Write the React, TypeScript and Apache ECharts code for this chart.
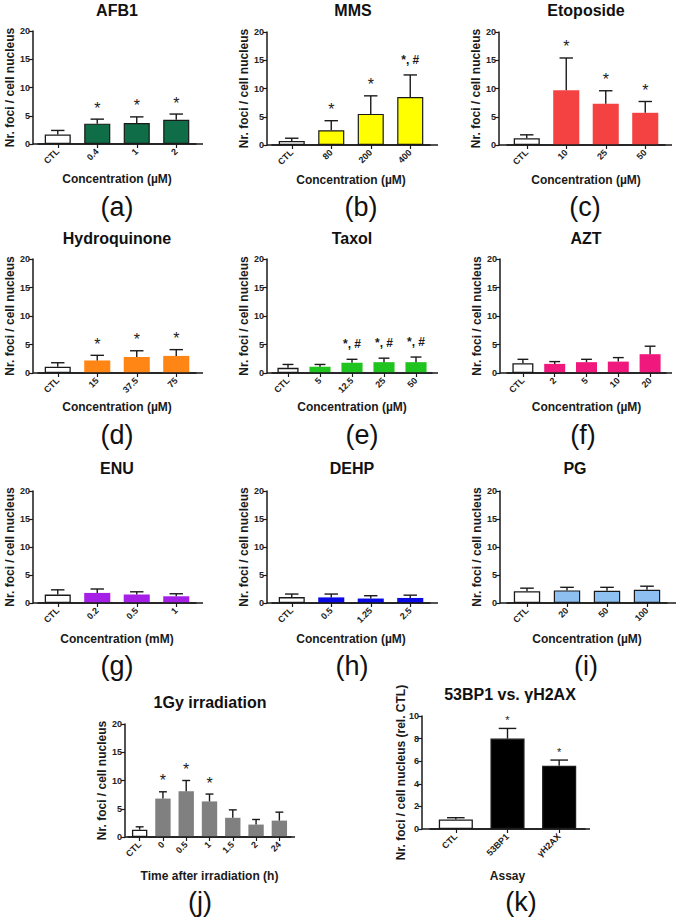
import React, { useEffect, useRef } from 'react';
import * as echarts from 'echarts';

const FONT = '"Liberation Sans", Arial, Helvetica, sans-serif';
const INK = '#1a1a1a';

// ---------- data ----------
const afb1Categories = ['CTL', '0.4', '1', '2'];
const afb1Means = [1.7, 3.6, 3.7, 4.3];
const afb1Sd = [0.7, 0.8, 1.1, 1.0];
const afb1Sig = ['', '*', '*', '*'];

const mmsCategories = ['CTL', '80', '200', '400'];
const mmsMeans = [0.7, 2.6, 5.5, 8.5];
const mmsSd = [0.5, 1.7, 3.2, 3.9];
const mmsSig = ['', '*', '*', '*, #'];

const etoCategories = ['CTL', '10', '25', '50'];
const etoMeans = [1.2, 9.7, 7.3, 5.7];
const etoSd = [0.6, 5.7, 2.3, 2.0];
const etoSig = ['', '*', '*', '*'];

const hqCategories = ['CTL', '15', '37.5', '75'];
const hqMeans = [1.1, 2.2, 2.8, 3.0];
const hqSd = [0.7, 0.9, 1.1, 1.1];
const hqSig = ['', '*', '*', '*'];

const taxolCategories = ['CTL', '5', '12.5', '25', '50'];
const taxolMeans = [0.9, 1.1, 1.8, 1.9, 1.9];
const taxolSd = [0.6, 0.4, 0.6, 0.7, 0.9];
const taxolSig = ['', '', '*, #', '*, #', '*, #'];

const aztCategories = ['CTL', '2', '5', '10', '20'];
const aztMeans = [1.7, 1.6, 1.9, 2.0, 3.3];
const aztSd = [0.7, 0.4, 0.5, 0.7, 1.4];
const aztSig = ['', '', '', '', ''];

const enuCategories = ['CTL', '0.2', '0.5', '1'];
const enuMeans = [1.5, 1.8, 1.5, 1.2];
const enuSd = [0.85, 0.7, 0.5, 0.45];
const enuSig = ['', '', '', ''];

const dehpCategories = ['CTL', '0.5', '1.25', '2.5'];
const dehpMeans = [1.05, 1.0, 0.8, 0.9];
const dehpSd = [0.55, 0.6, 0.5, 0.5];
const dehpSig = ['', '', '', ''];

const pgCategories = ['CTL', '20', '50', '100'];
const pgMeans = [2.1, 2.25, 2.2, 2.35];
const pgSd = [0.55, 0.55, 0.6, 0.65];
const pgSig = ['', '', '', ''];

const irrCategories = ['CTL', '0', '0.5', '1', '1.5', '2', '24'];
const irrMeans = [1.3, 6.8, 8.1, 6.3, 3.4, 2.2, 2.9];
const irrSd = [0.5, 1.2, 1.9, 1.3, 1.4, 0.9, 1.5];
const irrSig = ['', '*', '*', '*', '', '', ''];

const assayCategories = ['CTL', '53BP1', 'γH2AX'];
const assayMeans = [0.85, 8.0, 5.6];
const assaySd = [0.15, 0.9, 0.5];
const assaySig = ['', '*', '*'];

const Y_NAME = 'Nr. foci / cell nucleus';
const UM = 'Concentration (µM)';

const panels = [
  { tag: '(a)', title: 'AFB1', cats: afb1Categories, means: afb1Means, sd: afb1Sd, sig: afb1Sig, xName: UM, yName: Y_NAME, yMax: 20, yStep: 5 },
  { tag: '(b)', title: 'MMS', cats: mmsCategories, means: mmsMeans, sd: mmsSd, sig: mmsSig, xName: UM, yName: Y_NAME, yMax: 20, yStep: 5 },
  { tag: '(c)', title: 'Etoposide', cats: etoCategories, means: etoMeans, sd: etoSd, sig: etoSig, xName: UM, yName: Y_NAME, yMax: 20, yStep: 5 },
  { tag: '(d)', title: 'Hydroquinone', cats: hqCategories, means: hqMeans, sd: hqSd, sig: hqSig, xName: UM, yName: Y_NAME, yMax: 20, yStep: 5 },
  { tag: '(e)', title: 'Taxol', cats: taxolCategories, means: taxolMeans, sd: taxolSd, sig: taxolSig, xName: UM, yName: Y_NAME, yMax: 20, yStep: 5 },
  { tag: '(f)', title: 'AZT', cats: aztCategories, means: aztMeans, sd: aztSd, sig: aztSig, xName: UM, yName: Y_NAME, yMax: 20, yStep: 5 },
  { tag: '(g)', title: 'ENU', cats: enuCategories, means: enuMeans, sd: enuSd, sig: enuSig, xName: 'Concentration (mM)', yName: Y_NAME, yMax: 20, yStep: 5 },
  { tag: '(h)', title: 'DEHP', cats: dehpCategories, means: dehpMeans, sd: dehpSd, sig: dehpSig, xName: UM, yName: Y_NAME, yMax: 20, yStep: 5 },
  { tag: '(i)', title: 'PG', cats: pgCategories, means: pgMeans, sd: pgSd, sig: pgSig, xName: UM, yName: Y_NAME, yMax: 20, yStep: 5 },
  { tag: '(j)', title: '1Gy irradiation', cats: irrCategories, means: irrMeans, sd: irrSd, sig: irrSig, xName: 'Time after irradiation (h)', yName: Y_NAME, yMax: 20, yStep: 5 },
  { tag: '(k)', title: '53BP1 vs. γH2AX', cats: assayCategories, means: assayMeans, sd: assaySd, sig: assaySig, xName: 'Assay', yName: 'Nr. foci / cell nucleus (rel. CTL)', yMax: 10, yStep: 2 },
];

// ---------- styles & layout ----------
const styles = [
  { color: '#0f6d47', border: true },
  { color: '#ffff00', border: true },
  { color: '#f44242', border: false },
  { color: '#ff8514', border: false },
  { color: '#1fc41f', border: false },
  { color: '#f0187c', border: false },
  { color: '#a51fe6', border: false },
  { color: '#0a0ae6', border: false },
  { color: '#8ec1f2', border: true },
  { color: '#808080', border: false },
  { color: '#000000', border: true },
];

const layouts = [
  { axisX: 33, gridLeft: 38, gridWidth: 158, axisEnd: 203, top: 31, bottom: 144, titleX: 117, titleY: 10, tagX: 117, tagY: 207, xGap: 29, yGap: 17, small: false },
  { axisX: 267, gridLeft: 272, gridWidth: 158, axisEnd: 438, top: 32, bottom: 145, titleX: 353, titleY: 10, tagX: 361, tagY: 207, xGap: 29, yGap: 17, small: false },
  { axisX: 499, gridLeft: 507, gridWidth: 158, axisEnd: 672, top: 32, bottom: 145, titleX: 586, titleY: 10, tagX: 585, tagY: 207, xGap: 29, yGap: 17, small: false },
  { axisX: 33, gridLeft: 38, gridWidth: 158, axisEnd: 203, top: 259, bottom: 373, titleX: 117, titleY: 238, tagX: 117, tagY: 435, xGap: 28, yGap: 17, small: false },
  { axisX: 267, gridLeft: 272, gridWidth: 160, axisEnd: 438, top: 259, bottom: 373, titleX: 352, titleY: 238, tagX: 362, tagY: 435, xGap: 28, yGap: 17, small: false },
  { axisX: 500, gridLeft: 507, gridWidth: 159, axisEnd: 672, top: 259, bottom: 373, titleX: 586, titleY: 238, tagX: 583, tagY: 435, xGap: 28, yGap: 17, small: false },
  { axisX: 33, gridLeft: 38, gridWidth: 158, axisEnd: 203, top: 491, bottom: 603, titleX: 117, titleY: 468, tagX: 117, tagY: 666, xGap: 30, yGap: 17, small: false },
  { axisX: 267, gridLeft: 272, gridWidth: 158, axisEnd: 438, top: 491, bottom: 603, titleX: 352, titleY: 468, tagX: 352, tagY: 666, xGap: 30, yGap: 17, small: false },
  { axisX: 500, gridLeft: 507, gridWidth: 160, axisEnd: 676, top: 491, bottom: 603, titleX: 575, titleY: 468, tagX: 586, tagY: 666, xGap: 30, yGap: 17, small: false },
  { axisX: 125, gridLeft: 128, gridWidth: 163, axisEnd: 295, top: 724, bottom: 837, titleX: 210, titleY: 702, tagX: 200, tagY: 902, xGap: 33, yGap: 17, small: false },
  { axisX: 422, gridLeft: 430, gridWidth: 155, axisEnd: 590, top: 716, bottom: 829, titleX: 510, titleY: 694, tagX: 521, tagY: 902, xGap: 41, yGap: 15, small: true },
];

function buildOption() {
  const grid: any[] = [];
  const xAxis: any[] = [];
  const yAxis: any[] = [];
  const series: any[] = [];
  const graphic: any[] = [];

  panels.forEach((p, i) => {
    const l = layouts[i];
    const s = styles[i];
    grid.push({ left: l.gridLeft, top: l.top, width: l.gridWidth, height: l.bottom - l.top });
    xAxis.push({
      type: 'category',
      gridIndex: i,
      data: p.cats,
      name: p.xName,
      nameLocation: 'middle',
      nameGap: l.xGap,
      nameMoveOverlap: false,
      nameTextStyle: { fontSize: 12, fontWeight: 'bold', color: INK, fontFamily: FONT },
      axisLine: { show: true, lineStyle: { color: INK, width: 1.5 } },
      axisTick: { show: true, alignWithLabel: true, length: 4, lineStyle: { color: INK, width: 1.2 } },
      axisLabel: { interval: 0, rotate: 45, fontSize: 9, fontWeight: 'bold', color: '#222', margin: 6, fontFamily: FONT },
      splitLine: { show: false },
    });
    yAxis.push({
      type: 'value',
      gridIndex: i,
      min: 0,
      max: p.yMax,
      interval: p.yStep,
      offset: l.gridLeft - l.axisX,
      name: p.yName,
      nameLocation: 'middle',
      nameGap: l.yGap,
      nameMoveOverlap: false,
      nameTextStyle: { fontSize: 12, fontWeight: 'bold', color: INK, fontFamily: FONT },
      axisLine: { show: true, lineStyle: { color: INK, width: 1.5 } },
      axisTick: { show: true, length: 4, lineStyle: { color: INK, width: 1.2 } },
      axisLabel: { fontSize: 9, fontWeight: 'bold', color: '#222', margin: 3, fontFamily: FONT },
      splitLine: { show: false },
    });
    series.push({
      type: 'bar',
      xAxisIndex: i,
      yAxisIndex: i,
      barWidth: '66%',
      itemStyle: { color: s.color, borderColor: INK, borderWidth: s.border ? 1.2 : 0 },
      data: p.means.map((v, k) =>
        k === 0 ? { value: v, itemStyle: { color: '#ffffff', borderColor: INK, borderWidth: 1.3 } } : v
      ),
      z: 2,
    });
    const sig = p.sig;
    const small = l.small;
    series.push({
      type: 'custom',
      xAxisIndex: i,
      yAxisIndex: i,
      z: 5,
      clip: false,
      data: p.means.map((m, k) => [k, m, m + p.sd[k]]),
      encode: { x: 0, y: [1, 2] },
      renderItem: (params: any, api: any) => {
        const idx = params.dataIndex;
        const x = api.value(0);
        const base = api.coord([x, api.value(1)]);
        const top = api.coord([x, api.value(2)]);
        const band = api.size([1, 0])[0];
        const half = band * 0.17;
        const children: any[] = [
          { type: 'line', shape: { x1: top[0], y1: base[1], x2: top[0], y2: top[1] }, style: { stroke: INK, lineWidth: 1.4 } },
          { type: 'line', shape: { x1: top[0] - half, y1: top[1], x2: top[0] + half, y2: top[1] }, style: { stroke: INK, lineWidth: 1.4 } },
        ];
        const t = sig[idx];
        if (t) {
          const multi = t.length > 1;
          const fs = small ? 11 : multi ? 12 : 16;
          const off = small ? 8.5 : multi ? 15 : 11;
          children.push({
            type: 'text',
            x: top[0],
            y: top[1] - off,
            style: {
              text: t,
              fill: INK,
              fontSize: fs,
              fontWeight: multi ? 'bold' : 'normal',
              fontFamily: FONT,
              align: 'center',
              verticalAlign: 'middle',
            },
          });
        }
        return { type: 'group', children };
      },
    });

    // x-axis line running from the y axis to the end of the panel
    graphic.push({
      type: 'line',
      shape: { x1: l.axisX, y1: l.bottom, x2: l.axisEnd, y2: l.bottom },
      style: { stroke: INK, lineWidth: 1.5 },
      z: 50,
    });
    graphic.push({
      type: 'text',
      x: l.titleX,
      y: l.titleY,
      style: {
        text: p.title,
        fill: '#111',
        fontSize: 16,
        fontWeight: 'bold',
        fontFamily: FONT,
        align: 'center',
        verticalAlign: 'middle',
        textAlign: 'center',
        textVerticalAlign: 'middle',
      },
    });
    graphic.push({
      type: 'text',
      x: l.tagX,
      y: l.tagY,
      style: {
        text: p.tag,
        fill: '#111',
        fontSize: 27,
        fontWeight: 'normal',
        fontFamily: FONT,
        align: 'center',
        verticalAlign: 'middle',
        textAlign: 'center',
        textVerticalAlign: 'middle',
      },
    });
  });

  return {
    animation: false,
    backgroundColor: '#ffffff',
    textStyle: { fontFamily: FONT },
    grid,
    xAxis,
    yAxis,
    series,
    graphic,
  };
}

export default function App() {
  const ref = useRef<HTMLDivElement>(null);
  useEffect(() => {
    if (!ref.current) return;
    const chart = echarts.init(ref.current, undefined, { renderer: 'svg' });
    chart.setOption(buildOption() as any);
    return () => chart.dispose();
  }, []);
  return (
    <div
      ref={ref}
      style={{ position: 'fixed', left: 0, top: 0, width: 676, height: 920, background: '#fff' }}
    />
  );
}
